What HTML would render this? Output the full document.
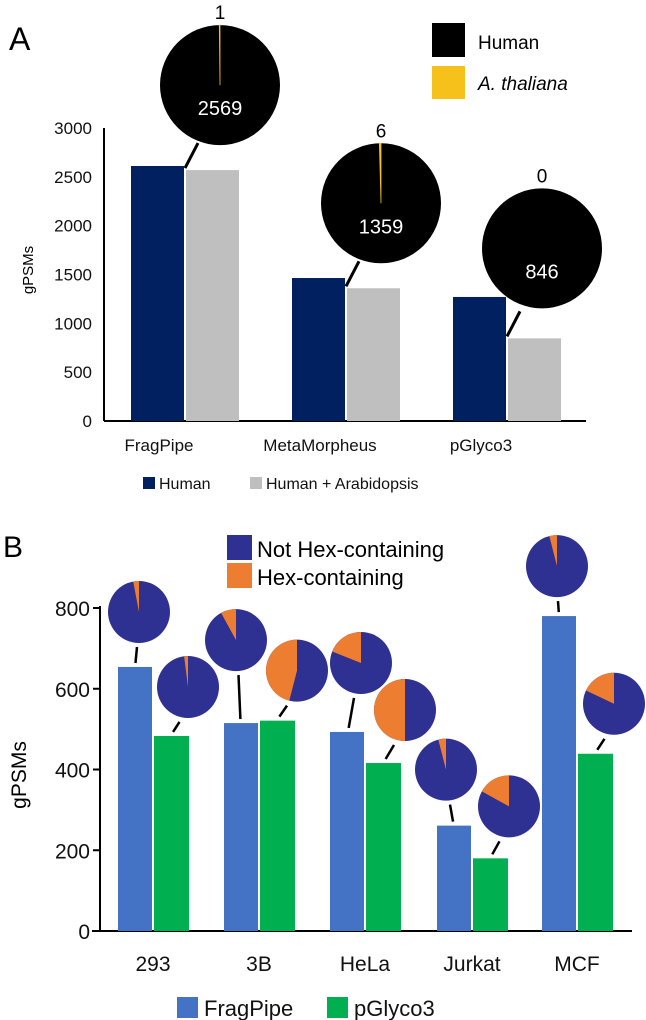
<!DOCTYPE html>
<html><head><meta charset="utf-8"><style>
html,body{margin:0;padding:0;background:#fff;}
svg{display:block;font-family:"Liberation Sans",Arial,sans-serif;}
</style></head><body>
<svg id="c" width="646" height="1020" viewBox="0 0 646 1020" xmlns="http://www.w3.org/2000/svg"></svg>
<script>
// Panel A data
const aCategories = ["FragPipe","MetaMorpheus","pGlyco3"];
const aHuman = [2611, 1464, 1270];
const aCombined = [2569, 1359, 846];
const aThaliana = [1, 6, 0];
const aTicks = [0,500,1000,1500,2000,2500,3000];
// Panel B data
const bCategories = ["293","3B","HeLa","Jurkat","MCF"];
const bFragPipe = [654, 515, 493, 261, 780];
const bPGlyco = [483, 521, 416, 180, 439];
const bFragHexFrac = [0.03, 0.08, 0.19, 0.04, 0.04];
const bPGlycoHexFrac = [0.02, 0.46, 0.50, 0.17, 0.18];
const bTicks = [0,200,400,600,800];

const svg = document.getElementById('c');
const NS = 'http://www.w3.org/2000/svg';
function mk(tag, attrs, parent){
  const e = document.createElementNS(NS, tag);
  for (const k in attrs) e.setAttribute(k, attrs[k]);
  (parent||svg).appendChild(e);
  return e;
}
function txt(s, attrs){ const t = mk('text', attrs); t.textContent = s; return t; }

// ---------- Panel A ----------
const aY = v => 421 - v/3000*293;
const aBand = [158, 319, 480];
const bw = 53;
let e;
e = txt('A', {x:9, y:50, 'font-size':32});
 
e = mk('line',{x1:104,y1:128,x2:104,y2:421,stroke:'#000','stroke-width':2});
 
e = mk('line',{x1:104,y1:421,x2:586,y2:421,stroke:'#000','stroke-width':2});
 
aTicks.forEach(t=>{
  e = txt(String(t), {x:92, y:aY(t)+6, 'font-size':17, 'text-anchor':'end', fill:'#111'});
   
});
e = txt('gPSMs', {x:0,y:0,'font-size':15,'text-anchor':'middle',transform:'translate(33,270) rotate(-90)'});
 
aCategories.forEach((c,i)=>{
  const cx = aBand[i]+27;
  e = mk('rect',{x:aBand[i]-27,y:aY(aHuman[i]),width:bw,height:421-aY(aHuman[i]),fill:'#002060'});
   
  e = mk('rect',{x:aBand[i]+28,y:aY(aCombined[i]),width:bw,height:421-aY(aCombined[i]),fill:'#bfbfbf'});
   
  e = txt(c,{x:aBand[i]+1,y:451,'font-size':17,'text-anchor':'middle',fill:'#111'});
   
  const top = aY(aCombined[i]);
  const pcx = cx + 35, pcy = top - 85 + (i==2?-5:0), r = 60;
  e = mk('line',{x1:cx,y1:top-2,x2:cx+13,y2:top-27,stroke:'#000','stroke-width':3});
   
  e = mk('circle',{cx:pcx,cy:pcy,r:r,fill:'#000'});
   
  const tot = aCombined[i]+aThaliana[i];
  const frac = aThaliana[i]/tot;
  if (frac>0){
    const ang = Math.max(frac*2*Math.PI, 0.012);
    const x2 = pcx - r*Math.sin(ang), y2 = pcy - r*Math.cos(ang);
    e = mk('path',{d:`M${pcx},${pcy} L${pcx},${pcy-r} A${r},${r} 0 0 0 ${x2},${y2} Z`,fill:'#f5c11a',stroke:'#f5c11a','stroke-width':0.8});
     
  }
  e = txt(String(aThaliana[i]),{x:pcx,y:pcy-r-6,'font-size':19,'text-anchor':'middle'});
   
  e = txt(String(aCombined[i]),{x:pcx,y:pcy+30,'font-size':20,'text-anchor':'middle',fill:'#fff'});
   
});
e = mk('rect',{x:432,y:23,width:33,height:34,fill:'#000'});
 
e = txt('Human',{x:478,y:49,'font-size':19});
 
e = mk('rect',{x:432,y:66,width:33,height:33,fill:'#f5c11a'});
 
e = txt('A. thaliana',{x:478,y:90,'font-size':19,'font-style':'italic'});
 
e = mk('rect',{x:143,y:477,width:12,height:12,fill:'#002060'});
 
e = txt('Human',{x:159,y:489,'font-size':16,fill:'#111'});
 
e = mk('rect',{x:250,y:477,width:12,height:12,fill:'#bfbfbf'});
 
e = txt('Human + Arabidopsis',{x:266,y:489,'font-size':16,fill:'#111'});
 

// ---------- Panel B ----------
const bY = v => 931 - v/800*323;
const bStart = [118, 224, 330, 437, 542];
e = txt('B', {x:3, y:557, 'font-size':30});
 
e = mk('line',{x1:100,y1:606,x2:100,y2:931,stroke:'#000','stroke-width':2});
 
e = mk('line',{x1:92,y1:931,x2:632,y2:931,stroke:'#000','stroke-width':2});
 
bTicks.forEach(t=>{
  e = mk('line',{x1:93,y1:bY(t),x2:100,y2:bY(t),stroke:'#000','stroke-width':2});
   
  e = txt(String(t),{x:90,y:bY(t)+8,'font-size':21,'text-anchor':'end',fill:'#111'});
   
});
e = txt('gPSMs',{x:0,y:0,'font-size':21,'text-anchor':'middle',transform:'translate(26,775) rotate(-90)'});
 
function bPie(cx, cy, frac, name){
  const r = 31;
  e = mk('circle',{cx:cx,cy:cy,r:r,fill:'#2e3192'});
   
  const ang = frac*2*Math.PI;
  const x2 = cx - r*Math.sin(ang), y2 = cy - r*Math.cos(ang);
  e = mk('path',{d:`M${cx},${cy} L${cx},${cy-r} A${r},${r} 0 ${frac>0.5?1:0} 0 ${x2},${y2} Z`,fill:'#ed7d31'});
   
}
// layout offsets of pies relative to bar tops
const fragOff = [[4,-55],[-5,-83],[14,-69],[-8,-56],[-2,-50]];
const pgOff   = [[17,-49],[20,-50],[22,-53],[19,-52],[19,-50]];
function leader(bcx, top, pcx, pcy){
  e = mk('line',{x1:pcx+(bcx-pcx)*0.5,y1:pcy+35,x2:bcx+(pcx-bcx)*0.12,y2:top-4,stroke:'#000','stroke-width':2.5});
   
}
bCategories.forEach((c,i)=>{
  const x0 = bStart[i];
  const fTop = bY(bFragPipe[i]), gTop = bY(bPGlyco[i]);
  e = mk('rect',{x:x0,y:fTop,width:34,height:931-fTop,fill:'#4472c4'});
   
  e = mk('rect',{x:x0+36,y:gTop,width:35,height:931-gTop,fill:'#00b050'});
   
  e = txt(c,{x:x0+35,y:971,'font-size':21,'text-anchor':'middle',fill:'#111'});
   
  const fcx = x0+17, gcx = x0+53;
  const fp = [fcx+fragOff[i][0], fTop+fragOff[i][1]];
  const gp = [gcx+pgOff[i][0], gTop+pgOff[i][1]];
  leader(fcx, fTop, fp[0], fp[1]);
  leader(gcx, gTop, gp[0], gp[1]);
  bPie(fp[0], fp[1], bFragHexFrac[i], 'b-pie-fragpipe-'+c);
  bPie(gp[0], gp[1], bPGlycoHexFrac[i], 'b-pie-pglyco3-'+c);
});
e = mk('rect',{x:227,y:535,width:25,height:25,fill:'#2e3192'});
 
e = txt('Not Hex-containing',{x:257,y:557,'font-size':22});
 
e = mk('rect',{x:227,y:563,width:25,height:25,fill:'#ed7d31'});
 
e = txt('Hex-containing',{x:257,y:585,'font-size':22});
 
e = mk('rect',{x:177,y:997,width:21,height:21,fill:'#4472c4'});
 
e = txt('FragPipe',{x:204,y:1016,'font-size':22,fill:'#111'});
 
e = mk('rect',{x:327,y:997,width:21,height:21,fill:'#00b050'});
 
e = txt('pGlyco3',{x:354,y:1016,'font-size':22,fill:'#111'});
 
</script>
</body></html>
